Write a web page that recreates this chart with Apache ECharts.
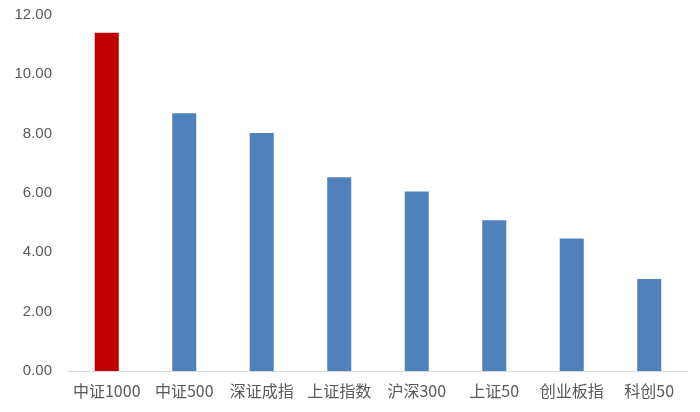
<!DOCTYPE html>
<html><head><meta charset="utf-8">
<script src="https://cdn.jsdelivr.net/npm/echarts@6/dist/echarts.min.js"></script>
<style>html,body{margin:0;padding:0;background:#fff}#c{width:700px;height:412px}</style>
</head><body><div id="c"></div>
<script>
const categories = ['中证1000','中证500','深证成指','上证指数','沪深300','上证50','创业板指','科创50'];
const values = [11.40, 8.69, 8.02, 6.53, 6.05, 5.08, 4.47, 3.10];
const barColors = ['#C00000','#4F81BD','#4F81BD','#4F81BD','#4F81BD','#4F81BD','#4F81BD','#4F81BD'];
const yTicks = [0, 2, 4, 6, 8, 10, 12];

const chart = echarts.init(document.getElementById('c'));
chart.setOption({
  animation: false,
  grid: {left: 68, right: 12, top: 15, bottom: 41},
  xAxis: {
    type: 'category', data: categories,
    axisLine: {lineStyle: {color: '#D9D9D9', width: 1}},
    axisTick: {show: false},
    axisLabel: {color: '#595959', fontSize: 16, margin: 12, fontFamily: 'Noto Sans CJK SC', interval: 0}
  },
  yAxis: {
    type: 'value', min: yTicks[0], max: yTicks[yTicks.length-1], interval: 2,
    axisLine: {show: false}, axisTick: {show: false}, splitLine: {show: false},
    axisLabel: {color: '#595959', fontSize: 15, margin: 16, fontFamily: 'Liberation Sans',
      formatter: v => v.toFixed(2)}
  },
  series: [{
    type: 'bar', barWidth: '31%',
    data: values.map((v, i) => ({value: v, itemStyle: {color: barColors[i]}}))
  }]
});
</script></body></html>
